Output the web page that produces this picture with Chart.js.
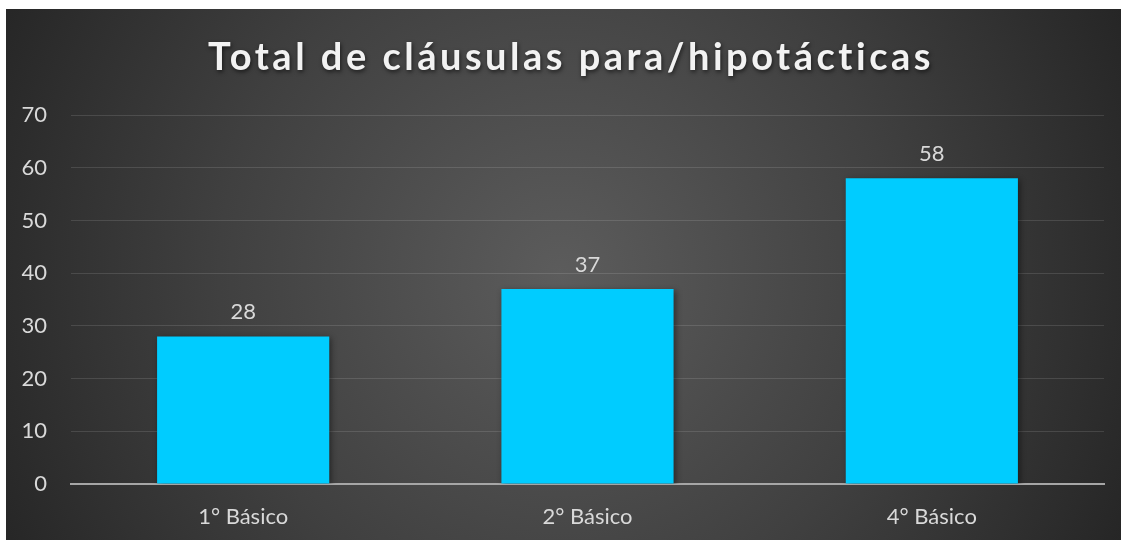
<!DOCTYPE html>
<html>
<head>
<meta charset="utf-8">
<script src="https://cdn.jsdelivr.net/npm/chart.js@4.4.1/dist/chart.umd.min.js"></script>
<style>
  html, body { margin: 0; padding: 0; background: #ffffff; }
  #wrap { width: 1121px; height: 542px; }
</style>
</head>
<body>
<div id="wrap"><canvas id="grafica"></canvas></div>
<script>
'use strict'
//Datos de la gráfica
const categorias = ['1° Básico', '2° Básico', '4° Básico'];
const valores = [28, 37, 58];
const titulo = 'Total de cláusulas para/hipotácticas';

//Fondo oscuro con degradado radial (como el gráfico de Excel)
const fondoPlugin = {
    id: 'fondo',
    beforeDraw(chart) {
        const ctx = chart.ctx;
        const x0 = 6, y0 = 9, x1 = chart.width, y1 = 540;
        ctx.save();
        const g = ctx.createRadialGradient(560, 275, 0, 560, 275, 620);
        g.addColorStop(0, '#5c5c5c');
        g.addColorStop(0.55, '#404040');
        g.addColorStop(1, '#262626');
        ctx.fillStyle = g;
        ctx.fillRect(x0, y0, x1 - x0, y1 - y0);
        ctx.restore();
    }
};

//Título con espaciado entre letras y sombra
const tituloPlugin = {
    id: 'tituloEspaciado',
    afterDraw(chart) {
        const ctx = chart.ctx;
        ctx.save();
        ctx.font = 'bold 38px Lato';
        ctx.letterSpacing = '3.5px';
        ctx.fillStyle = '#f2f2f2';
        ctx.textAlign = 'center';
        ctx.textBaseline = 'alphabetic';
        ctx.shadowColor = 'rgba(0,0,0,0.6)';
        ctx.shadowBlur = 4;
        ctx.shadowOffsetX = 1;
        ctx.shadowOffsetY = 2;
        ctx.fillText(titulo, 571, 70);
        ctx.restore();
    }
};

//Etiquetas de valor sobre cada barra
const etiquetasPlugin = {
    id: 'etiquetas',
    afterDatasetsDraw(chart) {
        const ctx = chart.ctx;
        const meta = chart.getDatasetMeta(0);
        ctx.save();
        ctx.font = '22px Lato';
        ctx.fillStyle = '#d9d9d9';
        ctx.textAlign = 'center';
        ctx.textBaseline = 'alphabetic';
        meta.data.forEach((barra, i) => {
            ctx.fillText(String(valores[i]), barra.x, barra.y - 17);
        });
        ctx.restore();
    }
};

//Sombra suave de las barras
const sombraPlugin = {
    id: 'sombra',
    beforeDatasetsDraw(chart) {
        const ctx = chart.ctx;
        ctx.save();
        ctx.shadowColor = 'rgba(0,0,0,0.45)';
        ctx.shadowBlur = 6;
        ctx.shadowOffsetX = 2;
        ctx.shadowOffsetY = 2;
    },
    afterDatasetsDraw(chart) {
        chart.ctx.restore();
    }
};

const ctx_grafica = document.getElementById('grafica').getContext('2d');

new Chart(ctx_grafica, {
    type: 'bar',
    data: {
        labels: categorias,
        datasets: [{
            label: 'Total',
            data: valores,
            backgroundColor: '#00ccff',
            borderWidth: 0,
            barPercentage: 0.5,
            categoryPercentage: 1.0
        }]
    },
    options: {
        animation: false,
        responsive: true,
        maintainAspectRatio: false,
        layout: {
            padding: { top: 115, left: 0, right: 17, bottom: 2 }
        },
        plugins: {
            legend: { display: false },
            title: { display: false },
            tooltip: { enabled: false }
        },
        scales: {
            x: {
                grid: { display: false, drawTicks: false },
                border: { display: true, color: '#a6a6a6', width: 2 },
                ticks: {
                    color: '#d9d9d9',
                    font: { family: 'Lato', size: 22 },
                    padding: 20
                },
                afterFit(scale) {
                    scale.height = 56;
                }
            },
            y: {
                min: 0,
                max: 70,
                ticks: {
                    stepSize: 10,
                    color: '#d9d9d9',
                    font: { family: 'Lato', size: 22 },
                    padding: 24
                },
                grid: {
                    color: 'rgba(255,255,255,0.12)',
                    lineWidth: 1,
                    drawTicks: false
                },
                border: { display: false },
                afterFit(scale) {
                    scale.width = 71;
                }
            }
        }
    },
    plugins: [fondoPlugin, sombraPlugin, etiquetasPlugin, tituloPlugin]
});
</script>
</body>
</html>
